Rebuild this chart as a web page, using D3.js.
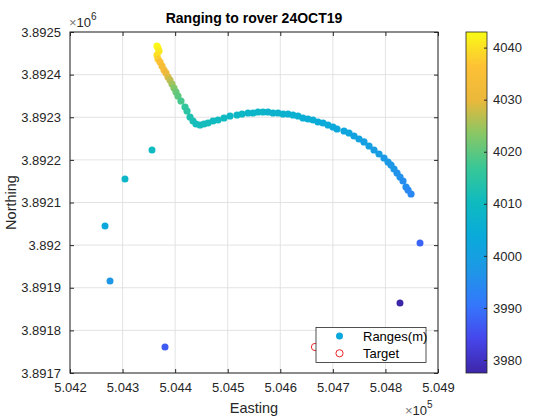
<!DOCTYPE html>
<html><head><meta charset="utf-8">
<script src="https://cdn.jsdelivr.net/npm/d3@7"></script>
<style>body{margin:0;background:#fff}svg{display:block;font-family:"Liberation Sans",Arial,sans-serif}</style>
</head><body><svg id="c" width="560" height="420"></svg>
<script>
// Data (Easting m, Northing m, Range m)
const curveEasting = [504365.5,504367.4,504369.3,504365.5,504367.4,504371.2,504375.0,504378.8,504382.6,504386.4,504390.2,504394.0,504397.8,504401.6,504405.4,504411.1,504418.8,504422.6,504428.3,504434.0,504439.7,504447.3,504454.9,504462.5,504472.0,504481.5,504492.9,504504.4,504517.7,504527.2,504538.6,504548.1,504557.6,504567.2,504576.6,504586.1,504595.7,504605.2,504614.7,504624.2,504633.7,504643.2,504652.7,504662.2,504671.7,504681.3,504690.8,504700.3,504707.9,504721.2,504730.7,504740.2,504749.7,504759.2,504768.8,504778.3,504787.8,504797.3,504804.9,504810.6,504816.3,504822.0,504827.7,504833.4,504839.1,504843.0,504848.7];
const curveNorthing = [3892467.2,3892462.5,3892455.4,3892446.0,3892436.7,3892429.6,3892420.2,3892410.8,3892403.8,3892394.4,3892387.4,3892378.0,3892368.6,3892359.2,3892349.9,3892338.1,3892324.1,3892314.7,3892300.6,3892291.2,3892284.2,3892281.8,3892284.2,3892286.5,3892291.2,3892293.6,3892298.2,3892302.9,3892305.3,3892307.6,3892310.0,3892310.0,3892312.3,3892312.3,3892312.3,3892310.0,3892310.0,3892307.6,3892307.6,3892305.3,3892302.9,3892298.2,3892295.9,3892293.6,3892288.9,3892286.5,3892281.8,3892277.1,3892272.4,3892267.8,3892263.1,3892256.0,3892249.0,3892242.0,3892232.6,3892223.2,3892213.8,3892204.4,3892195.0,3892188.0,3892178.6,3892169.2,3892159.8,3892150.4,3892136.4,3892129.3,3892119.9];
const curveRange = [4043,4042,4041,4040,4038,4036,4034,4033,4031,4029,4027,4025,4023,4021,4020,4018,4016,4015,4013,4012,4011,4011,4011,4011,4010,4010,4010,4009,4009,4009,4008,4008,4008,4008,4007,4007,4007,4007,4006,4006,4006,4005,4005,4005,4004,4004,4004,4003,4003,4002,4002,4001,4001,4000,4000,3999,3999,3998,3998,3997,3997,3996,3996,3995,3995,3994,3994];
const outlierEasting = [504356.0,504304.6,504266.6,504276.1,504380.7,504865.8,504827.7];
const outlierNorthing = [3892223.2,3892155.1,3892044.9,3891915.8,3891761.0,3892005.0,3891864.2];
const outlierRange = [4010,4008,4003,3997,3987,3988,3977.5];
const targetEasting = [504666.0];
const targetNorthing = [3891761.0];

const xTicks = [504200,504300,504400,504500,504600,504700,504800,504900];
const xTickLabels = ["5.042","5.043","5.044","5.045","5.046","5.047","5.048","5.049"];
const yTicks = [3891700,3891800,3891900,3892000,3892100,3892200,3892300,3892400,3892500];
const yTickLabels = ["3.8917","3.8918","3.8919","3.892","3.8921","3.8922","3.8923","3.8924","3.8925"];
const cTicks = [3980,3990,4000,4010,4020,4030,4040];
const legendLabels = ["Ranges(m)","Target"];

// parula approximation
const parulaStops = [[0.2422,0.1504,0.6603],[0.2760,0.2758,0.9213],[0.2039,0.4676,0.9890],[0.1185,0.5935,0.9038],[0.0372,0.6671,0.8559],[0.0600,0.7311,0.7500],[0.2145,0.7822,0.5920],[0.5300,0.7800,0.4000],[0.9200,0.7200,0.2300],[0.9939,0.7554,0.2094],[0.9769,0.9839,0.0805]];
const parula = d3.scaleLinear().domain(parulaStops.map((_,i)=>i/(parulaStops.length-1)))
  .range(parulaStops.map(c=>d3.rgb(c[0]*255,c[1]*255,c[2]*255))).interpolate(d3.interpolateRgb).clamp(true);

const allRange = curveRange.concat(outlierRange);
const cMin = d3.min(allRange), cMax = d3.max(allRange);
const cNorm = d3.scaleLinear([cMin,cMax],[0,1]);
const color = v => parula(cNorm(v));

const svg = d3.select("#c");
const L=70,R=438,T=32,B=373;
const x = d3.scaleLinear([504200,504900],[L,R]);
const y = d3.scaleLinear([3891700,3892500],[B,T]);
const txt="#262626";

// grid
const g = svg.append("g");
g.selectAll(".gx").data(xTicks).join("line").attr("x1",d=>x(d)).attr("x2",d=>x(d)).attr("y1",T).attr("y2",B).attr("stroke","#dcdcdc").attr("stroke-width",0.8);
g.selectAll(".gy").data(yTicks).join("line").attr("y1",d=>y(d)).attr("y2",d=>y(d)).attr("x1",L).attr("x2",R).attr("stroke","#dcdcdc").attr("stroke-width",0.8);

// axes with inward ticks
const ax = (gen, tr) => svg.append("g").attr("transform",tr).call(gen).call(s=>{s.select(".domain").remove();s.selectAll("line").attr("stroke",txt);s.selectAll("text").attr("fill",txt).style("font-size","13px").style("font-family","'Liberation Sans',Arial,sans-serif");});
ax(d3.axisBottom(x).tickValues(xTicks).tickFormat((d,i)=>xTickLabels[i]).tickSizeInner(-4).tickPadding(10), `translate(0,${B})`);
ax(d3.axisLeft(y).tickValues(yTicks).tickFormat((d,i)=>yTickLabels[i]).tickSizeInner(-4).tickPadding(9), `translate(${L},0)`);
ax(d3.axisTop(x).tickValues(xTicks).tickFormat("").tickSizeInner(-4), `translate(0,${T})`);
ax(d3.axisRight(y).tickValues(yTicks).tickFormat("").tickSizeInner(-4), `translate(${R},0)`);
svg.append("rect").attr("x",L).attr("y",T).attr("width",R-L).attr("height",B-T).attr("fill","none").attr("stroke",txt).attr("stroke-width",1);

// points
const pts = svg.append("g");
pts.selectAll(".c").data(curveEasting.map((e,i)=>({e,n:curveNorthing[i],r:curveRange[i]}))).join("circle")
  .attr("cx",d=>x(d.e)).attr("cy",d=>y(d.n)).attr("r",3.6).attr("fill",d=>color(d.r));
pts.selectAll(".o").data(outlierEasting.map((e,i)=>({e,n:outlierNorthing[i],r:outlierRange[i]}))).join("circle")
  .attr("cx",d=>x(d.e)).attr("cy",d=>y(d.n)).attr("r",3.5).attr("fill",d=>color(d.r));
pts.selectAll(".t").data(targetEasting.map((e,i)=>({e,n:targetNorthing[i]}))).join("circle")
  .attr("cx",d=>x(d.e)).attr("cy",d=>y(d.n)).attr("r",3.6).attr("fill","none").attr("stroke","#e8262b").attr("stroke-width",1);

// title & labels
svg.append("text").attr("x",(L+R)/2).attr("y",23).attr("text-anchor","middle").attr("font-weight","bold").attr("font-size","14px").attr("fill","#000").text("Ranging to rover 24OCT19");
svg.append("text").attr("x",(L+R)/2).attr("y",413).attr("text-anchor","middle").attr("font-size","14.5px").attr("fill",txt).text("Easting");
svg.append("text").attr("transform",`translate(16,${(T+B)/2}) rotate(-90)`).attr("text-anchor","middle").attr("font-size","14.5px").attr("fill",txt).text("Northing");
// exponents
const ex1 = svg.append("text").attr("x",69).attr("y",27).attr("font-size","13px").attr("fill",txt);
ex1.append("tspan").attr("fill","#777").text("×");ex1.append("tspan").text("10");ex1.append("tspan").attr("dy",-7).attr("font-size","10px").text("6");
const ex2 = svg.append("text").attr("x",405).attr("y",415).attr("font-size","13px").attr("fill",txt);
ex2.append("tspan").attr("fill","#777").text("×");ex2.append("tspan").text("10");ex2.append("tspan").attr("dy",-7).attr("font-size","10px").text("5");

// legend
const lg = svg.append("g");
lg.append("rect").attr("x",316).attr("y",327.5).attr("width",110).attr("height",35).attr("fill","#fff").attr("stroke","#262626").attr("stroke-width",0.8);
lg.append("circle").attr("cx",339.5).attr("cy",336).attr("r",3.5).attr("fill",color(4003));
lg.append("circle").attr("cx",339.5).attr("cy",353.3).attr("r",3.6).attr("fill","none").attr("stroke","#e8262b").attr("stroke-width",1);
lg.selectAll(".lt").data(legendLabels).join("text").attr("x",363).attr("y",(d,i)=>340.5+i*17).attr("font-size","13px").attr("fill","#000").text(d=>d);

// colorbar
const CL=466,CR=487;
const cy = d3.scaleLinear([cMin,cMax],[B,T]);
const defs = svg.append("defs");
const grad = defs.append("linearGradient").attr("id","pg").attr("x1",0).attr("y1",1).attr("x2",0).attr("y2",0);
d3.range(0,1.0001,0.05).forEach(t=>grad.append("stop").attr("offset",t).attr("stop-color",parula(t)));
svg.append("rect").attr("x",CL).attr("y",T).attr("width",CR-CL).attr("height",B-T).attr("fill","url(#pg)");
svg.append("rect").attr("x",CL).attr("y",T).attr("width",CR-CL).attr("height",B-T).attr("fill","none").attr("stroke",txt).attr("stroke-width",0.8);
svg.append("g").attr("transform",`translate(${CR},0)`).call(d3.axisRight(cy).tickValues(cTicks).tickSizeInner(-3).tickPadding(6).tickFormat(d3.format("d")))
  .call(s=>{s.select(".domain").remove();s.selectAll("line").attr("stroke",txt);s.selectAll("text").attr("fill",txt).style("font-size","13px").style("font-family","'Liberation Sans',Arial,sans-serif");});
</script></body></html>
